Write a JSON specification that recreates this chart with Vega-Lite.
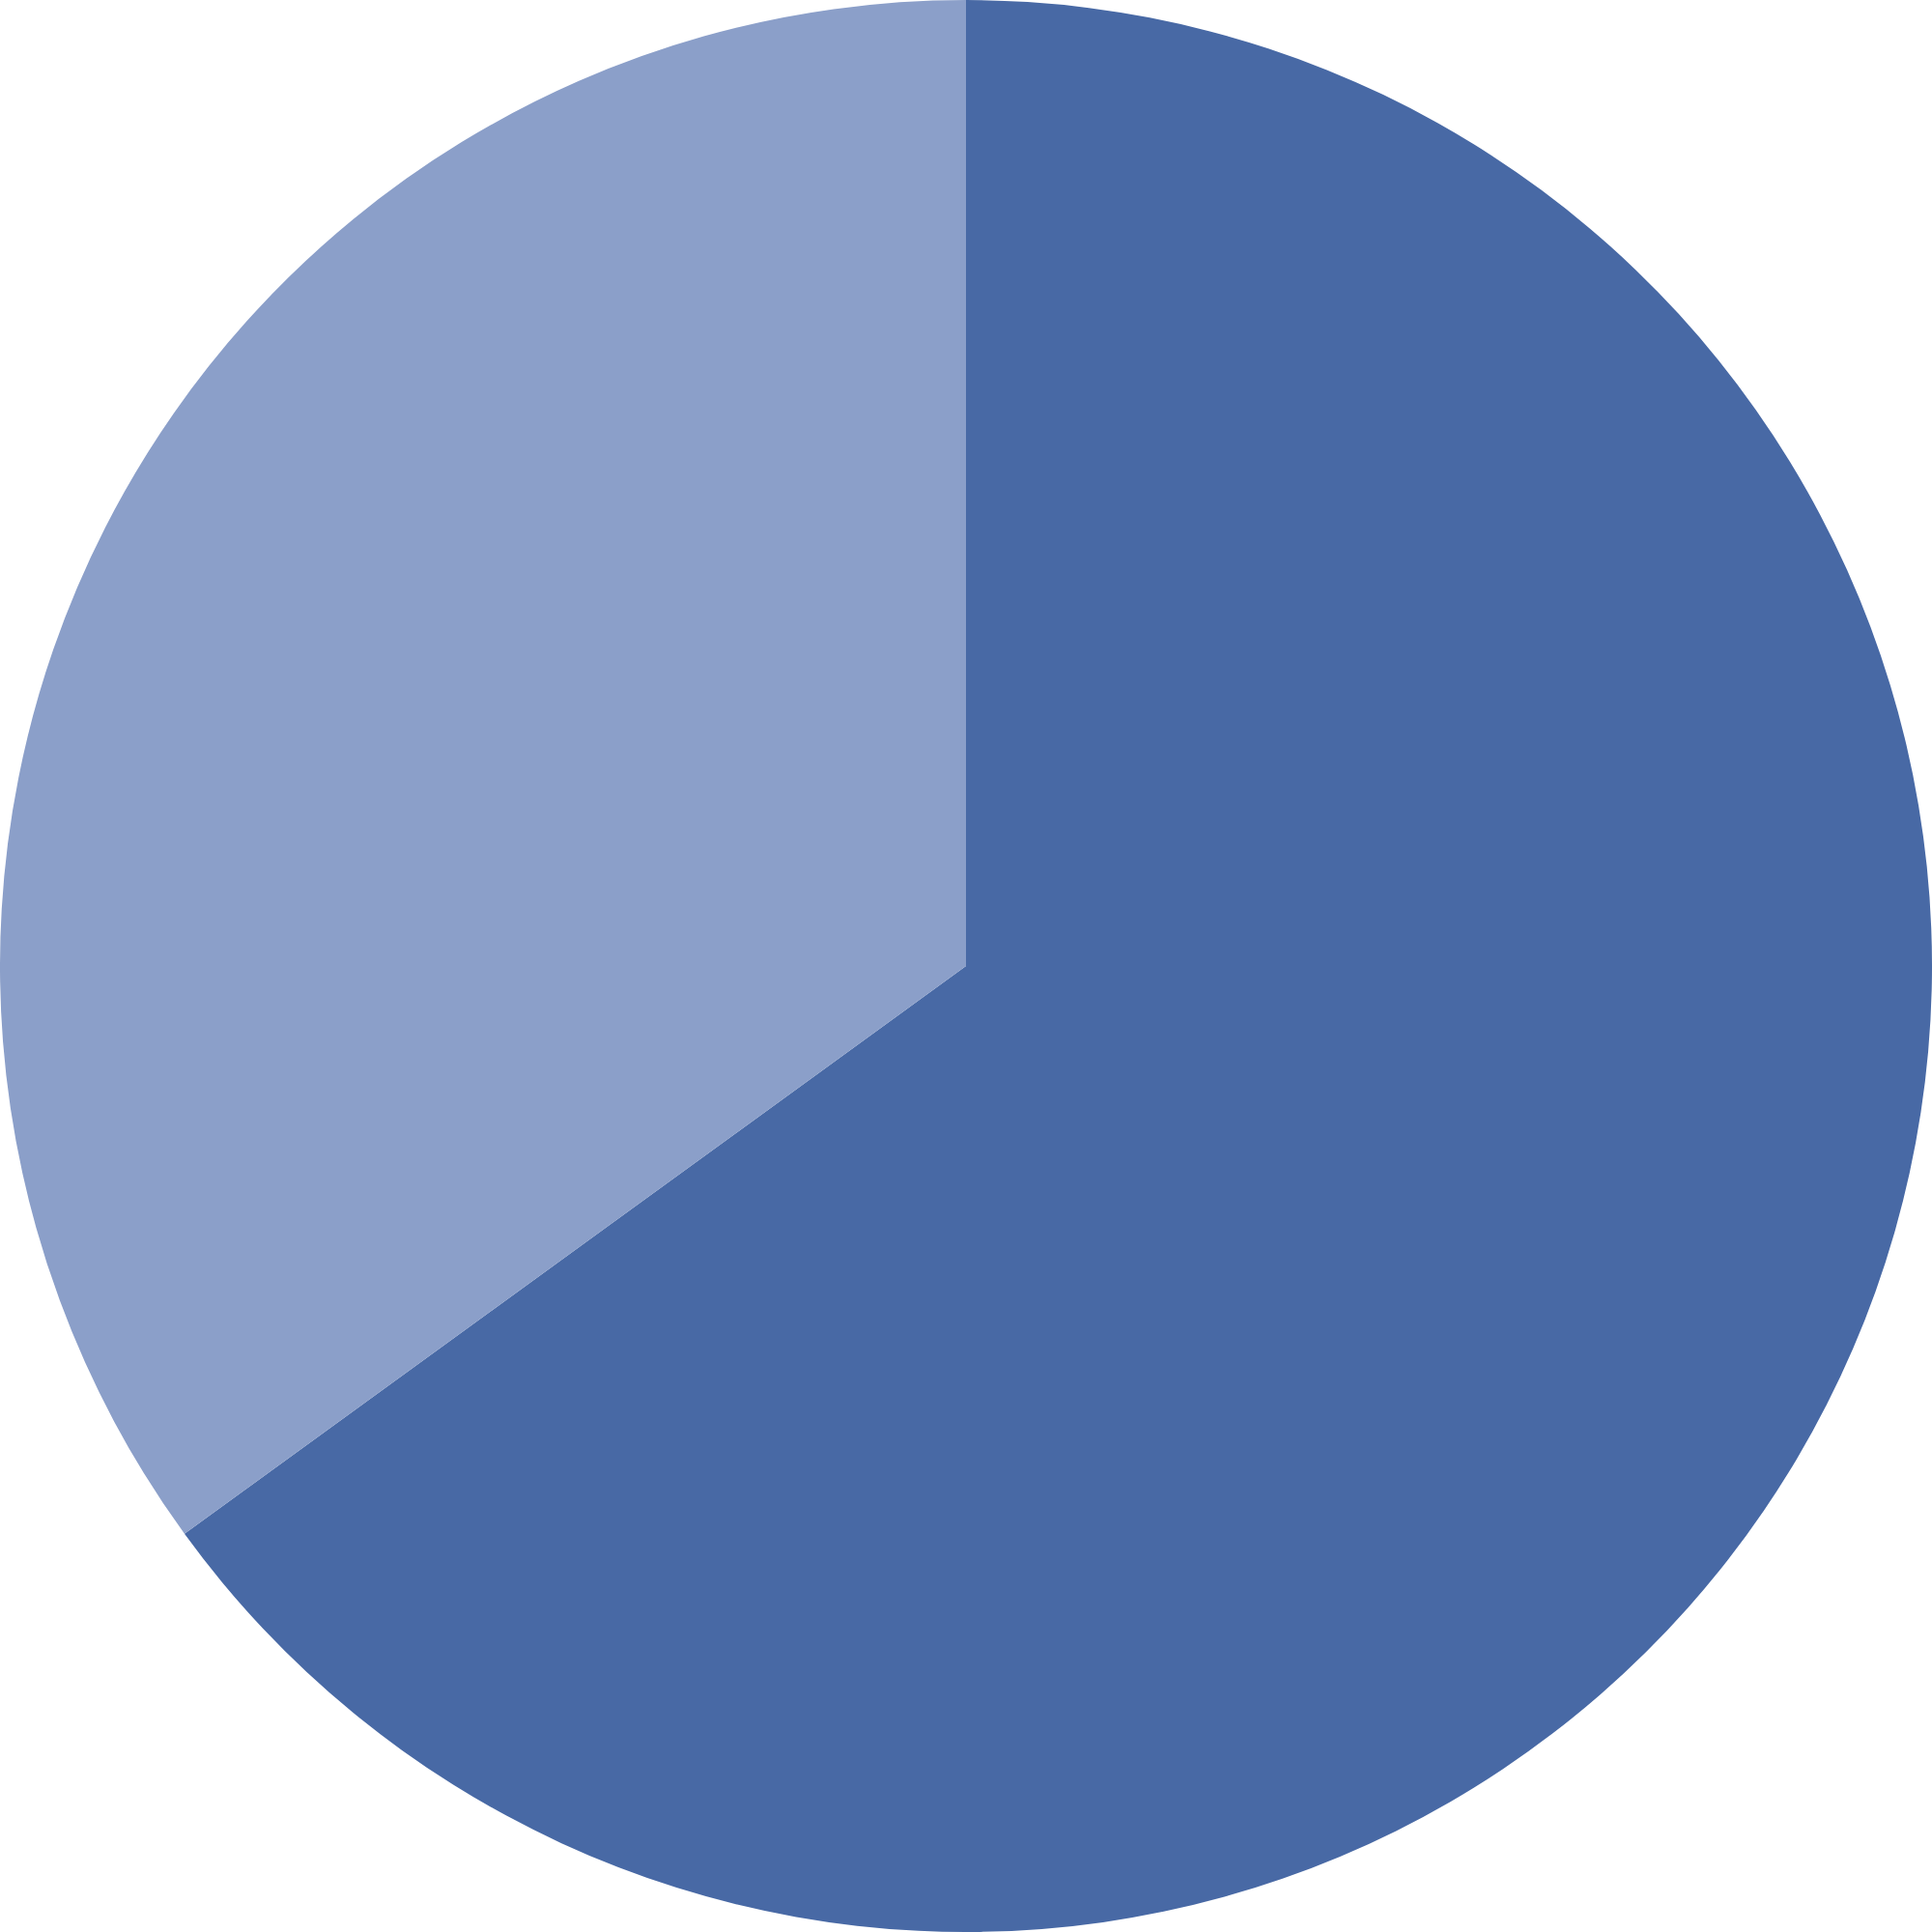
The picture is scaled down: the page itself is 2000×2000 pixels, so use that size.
{
  "$schema": "https://vega.github.io/schema/vega-lite/v6.json",
  "width": 2000,
  "height": 2000,
  "autosize": {"type": "fit", "contains": "padding"},
  "padding": 0,
  "background": "white",
  "config": {"view": {"stroke": null}},
  "data": {
    "values": [
      {"category": "A", "value": 65},
      {"category": "B", "value": 35}
    ]
  },
  "mark": {"type": "arc", "stroke": null},
  "encoding": {
    "theta": {"field": "value", "type": "quantitative", "stack": true},
    "order": {"field": "category", "type": "nominal", "sort": "ascending"},
    "color": {
      "field": "category",
      "type": "nominal",
      "scale": {"domain": ["A", "B"], "range": ["#4869a5", "#8b9fc9"]},
      "legend": null
    }
  }
}
